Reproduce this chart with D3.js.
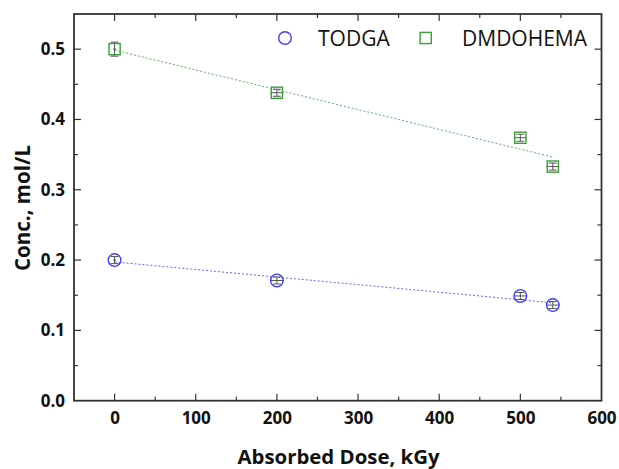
<!DOCTYPE html>
<html>
<head>
<meta charset="utf-8">
<script src="https://cdn.jsdelivr.net/npm/d3@7"></script>
<style>
  body { margin: 0; background: #fff; }
  text { font-family: "Open Sans", sans-serif; }
</style>
</head>
<body>
<script>
// absorbed dose, kGy
const dose = [0, 200, 500, 540]
const todga = [0.200, 0.171, 0.149, 0.136]
const dmdohema = [0.500, 0.438, 0.374, 0.333]
const todgaErr = [0.005, 0.005, 0.005, 0.005]
const dmdohemaErr = [0.010, 0.005, 0.005, 0.005]
const doseErr = [0, 8, 8, 8]
const xTicks = [0, 100, 200, 300, 400, 500, 600]
const yTicks = [0.0, 0.1, 0.2, 0.3, 0.4, 0.5]

const W = 619, H = 469
const blue = '#3f3ff5', green = '#3a9e3a', errCol = '#555'

const x = d3.scaleLinear().domain([-50, 600]).range([74, 601.5])
const y = d3.scaleLinear().domain([0, 0.55]).range([400.7, 14])

const svg = d3.select('body').append('svg')
  .attr('width', W).attr('height', H)

// linear fit from data
function fit(xs, ys) {
  const mx = d3.mean(xs), my = d3.mean(ys)
  let sxy = 0, sxx = 0
  xs.forEach((v, i) => { sxy += (v - mx)*(ys[i] - my); sxx += (v - mx)*(v - mx) })
  const b = sxy/sxx
  return [[xs[0], my + b*(xs[0]-mx)], [xs[xs.length-1], my + b*(xs[xs.length-1]-mx)]]
}

const series = [
  {name: 'TODGA', vals: todga, err: todgaErr, color: blue, shape: 'circle'},
  {name: 'DMDOHEMA', vals: dmdohema, err: dmdohemaErr, color: green, shape: 'square'},
]

series.forEach(s => {
  const f = fit(dose, s.vals)
  svg.append('path')
    .attr('d', d3.line().x(d => x(d[0])).y(d => y(d[1]))(f))
    .attr('fill', 'none').attr('stroke', s.color).attr('stroke-opacity', 0.8)
    .attr('stroke-width', 1).attr('stroke-dasharray', '2,2')

  const pts = dose.map((d, i) => ({x: d, y: s.vals[i], ey: s.err[i], ex: doseErr[i]}))
  const g = svg.append('g').selectAll('g').data(pts).enter().append('g')
  // error bars
  g.append('line')
    .attr('x1', d => x(d.x)).attr('x2', d => x(d.x))
    .attr('y1', d => y(d.y - d.ey)).attr('y2', d => y(d.y + d.ey))
    .attr('stroke', errCol).attr('stroke-width', 1)
  g.append('line')
    .attr('x1', d => x(d.x) - 4).attr('x2', d => x(d.x) + 4)
    .attr('y1', d => y(d.y - d.ey)).attr('y2', d => y(d.y - d.ey))
    .attr('stroke', errCol).attr('stroke-width', 1)
  g.append('line')
    .attr('x1', d => x(d.x) - 4).attr('x2', d => x(d.x) + 4)
    .attr('y1', d => y(d.y + d.ey)).attr('y2', d => y(d.y + d.ey))
    .attr('stroke', errCol).attr('stroke-width', 1)
  g.filter(d => d.ex > 0).append('line')
    .attr('x1', d => x(d.x - d.ex)).attr('x2', d => x(d.x + d.ex))
    .attr('y1', d => y(d.y)).attr('y2', d => y(d.y))
    .attr('stroke', errCol).attr('stroke-width', 1)
  g.filter(d => d.ex == 0).append('line')
    .attr('x1', d => x(d.x) - 1.5).attr('x2', d => x(d.x) + 1.5)
    .attr('y1', d => y(d.y)).attr('y2', d => y(d.y))
    .attr('stroke', errCol).attr('stroke-width', 1)

  if (s.shape === 'circle') {
    g.append('circle').attr('cx', d => x(d.x)).attr('cy', d => y(d.y)).attr('r', 6.3)
      .attr('fill', 'none').attr('stroke', s.color).attr('stroke-width', 1.4)
  } else {
    g.append('rect').attr('x', d => x(d.x) - 5.6).attr('y', d => y(d.y) - 5.6)
      .attr('width', 11.2).attr('height', 11.2)
      .attr('fill', 'none').attr('stroke', s.color).attr('stroke-width', 1.4)
  }
})

// axes with inward ticks
const ax = '#333'
const bottom = svg.append('g').attr('transform', `translate(0,${y(0)})`)
  .call(d3.axisBottom(x).tickValues(xTicks).tickSize(0).tickPadding(11).tickFormat(d3.format('d')))
const left = svg.append('g').attr('transform', `translate(${x(-50)},0)`)
  .call(d3.axisLeft(y).tickValues(yTicks).tickSize(0).tickPadding(9).tickFormat(d3.format('.1f')))
;[bottom, left].forEach(a => {
  a.select('.domain').remove()
  a.selectAll('text').attr('font-size', 17).attr('font-weight', 'bold').attr('fill', '#111')
})

const xMinor = d3.range(-50, 601, 50).filter(v => v > -50 && v < 600)
const yMinor = d3.range(0.05, 0.55, 0.05)
const tk = svg.append('g').attr('stroke', ax).attr('stroke-width', 1.2)
xMinor.forEach(v => {
  const len = (v % 100 === 0) ? 7 : 4
  tk.append('line').attr('x1', x(v)).attr('x2', x(v)).attr('y1', y(0)).attr('y2', y(0) - len)
  tk.append('line').attr('x1', x(v)).attr('x2', x(v)).attr('y1', y(0.55)).attr('y2', y(0.55) + len)
})
yMinor.forEach(v => {
  const major = Math.abs(Math.round(v*10) - v*10) < 1e-6
  const len = major ? 7 : 4
  tk.append('line').attr('x1', x(-50)).attr('x2', x(-50) + len).attr('y1', y(v)).attr('y2', y(v))
  tk.append('line').attr('x1', x(600)).attr('x2', x(600) - len).attr('y1', y(v)).attr('y2', y(v))
})

svg.append('rect')
  .attr('x', x(-50)).attr('y', y(0.55))
  .attr('width', x(600) - x(-50)).attr('height', y(0) - y(0.55))
  .attr('fill', 'none').attr('stroke', ax).attr('stroke-width', 1.8)

// axis titles
svg.append('text').attr('x', 338.5).attr('y', 464).attr('text-anchor', 'middle')
  .attr('font-size', 20.4).attr('font-weight', 'bold').attr('fill', '#111')
  .text('Absorbed Dose, kGy')
svg.append('text').attr('transform', 'translate(30,208) rotate(-90)').attr('text-anchor', 'middle')
  .attr('font-size', 20.5).attr('font-weight', 'bold').attr('fill', '#111')
  .text('Conc., mol/L')

// legend
const lg = svg.append('g')
lg.append('circle').attr('cx', 285).attr('cy', 38).attr('r', 6.3)
  .attr('fill', 'none').attr('stroke', blue).attr('stroke-width', 1.4)
lg.append('text').attr('x', 318).attr('y', 46).attr('font-size', 21).attr('fill', '#111').text(series[0].name)
lg.append('rect').attr('x', 425.7 - 5.6).attr('y', 38 - 5.6).attr('width', 11.2).attr('height', 11.2)
  .attr('fill', 'none').attr('stroke', green).attr('stroke-width', 1.4)
lg.append('text').attr('x', 462).attr('y', 46).attr('font-size', 21).attr('fill', '#111').text(series[1].name)
</script>
</body>
</html>
